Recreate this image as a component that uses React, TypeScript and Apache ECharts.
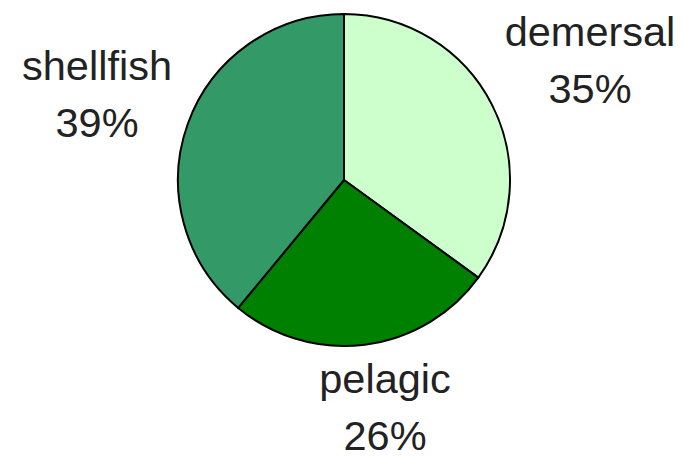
import React, { useEffect, useRef } from "react";
import * as echarts from "echarts";

const categories = ["demersal", "pelagic", "shellfish"];
const shares = [35, 26, 39];
const colors = ["#ccffcc", "#008000", "#339966"];
// label anchor points (layout only)
const labelSpots: [number, number][] = [
  [590, 60],
  [385, 407],
  [97, 94],
];

export default function App() {
  const ref = useRef<HTMLDivElement>(null);
  useEffect(() => {
    document.body.style.margin = "0";
    if (!ref.current) return;
    const chart = echarts.init(ref.current, undefined, { renderer: "svg" });
    chart.setOption({
      animation: false,
      backgroundColor: "#ffffff",
      series: [
        {
          type: "pie",
          center: [344, 180],
          radius: 166,
          startAngle: 90,
          clockwise: true,
          data: categories.map((c, i) => ({
            name: c,
            value: shares[i],
            itemStyle: { color: colors[i] },
          })),
          itemStyle: { borderColor: "#000", borderWidth: 2 },
          emphasis: { disabled: true },
          label: {
            show: true,
            position: "outside",
            formatter: "{b}\n{d}%",
            fontFamily: "Liberation Sans, Arial, sans-serif",
            fontSize: 41.5,
            lineHeight: 57,
            color: "#222",
            align: "center",
            overflow: "none",
            alignTo: "none",
            edgeDistance: 0,
          },
          labelLine: { show: false },
          labelLayout: (p: any) => ({
            x: labelSpots[p.dataIndex][0],
            y: labelSpots[p.dataIndex][1],
            align: "center",
            verticalAlign: "middle",
          }),
        },
      ],
    });
    return () => chart.dispose();
  }, []);
  return <div ref={ref} style={{ width: 683, height: 459 }} />;
}
